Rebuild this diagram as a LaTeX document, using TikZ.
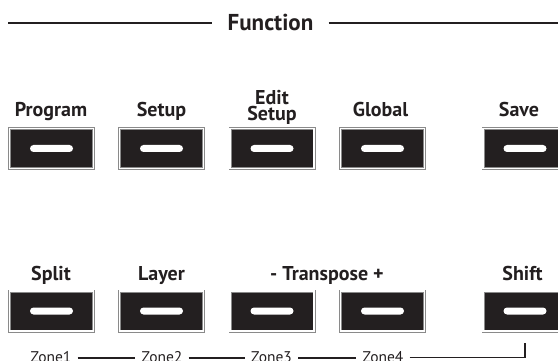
\documentclass[tikz,border=0pt]{standalone}
\usepackage{fontspec}
\setmainfont{PT Sans}
\usetikzlibrary{positioning}
\definecolor{panelBlack}{HTML}{231F20}
\definecolor{panelGrey}{HTML}{8A8A8A}

\begin{document}
\begin{tikzpicture}[x=1pt, y=-1pt,
    key/.style={rectangle, draw=panelGrey, line width=0.7pt, double=white, double distance=1.6pt, fill=panelBlack, minimum width=84pt, minimum height=40pt, inner sep=0pt},
    led/.style={rectangle, rounded corners=3.5pt, fill=white, minimum width=43pt, minimum height=7pt, inner sep=0pt},
    keylabel/.style={anchor=base, text=panelBlack, font=\fontsize{20}{16.5}\selectfont\bfseries, align=center, inner sep=0pt},
    zone/.style={text=panelBlack, font=\fontsize{15.5}{15.5}\selectfont, inner xsep=6pt, inner ysep=0pt},
    rule/.style={line width=2.8pt, draw=panelBlack},
    link/.style={line width=2pt, draw=panelBlack}
  ]
  \clip (0,0) rectangle (558,361);

  % title bar
  \node[text=panelBlack, font=\fontsize{23}{23}\selectfont\bfseries, inner xsep=15pt, inner ysep=0pt] (func) at (270.5,22) {Function};
  \coordinate (ruleL) at (8,23);
  \coordinate (ruleR) at (558,23);
  \draw[rule] (ruleL) -- (ruleL -| func.west);
  \draw[rule] (ruleR -| func.east) -- (ruleR);

  % buttons with their lamps
  \foreach \x/\y/\name in {51.5/148.5/prog, 161.5/148.5/setup, 272/148.5/edit, 382.5/148.5/global, 525/148.5/save,
                           51.5/311/split, 161.5/311/layer, 272/311/down, 382.5/311/up, 525/311/shift}{
    \node[key] (\name) at (\x,\y) {};
    \node[led] (\name led) at (\name.center) {};
  }

  % labels
  \node[keylabel] (lprog) at (51,117) {Program};
  \node[keylabel] (lsetup) at (161.5,117) {Setup};
  \node[keylabel] (ledit) at (272,121) {Edit\\Setup};
  \node[keylabel] (lglobal) at (380.5,117) {Global};
  \node[keylabel] (lsave) at (519,117) {Save};
  \node[keylabel] (lsplit) at (51,280) {Split};
  \node[keylabel] (llayer) at (161.5,280) {Layer};
  \node[keylabel] (ltrans) at (327,280) {- Transpose +};
  \node[keylabel] (lshift) at (522.5,280) {Shift};

  % zones
  \node[zone] (z1) at (51,357.5) {Zone1};
  \node[zone] (z2) at (162,357.5) {Zone2};
  \node[zone] (z3) at (271.5,357.5) {Zone3};
  \node[zone] (z4) at (383,357.5) {Zone4};
  \coordinate (shifttap) at (525,343);
  \draw[link] (z1) -- (z2);
  \draw[link] (z2) -- (z3);
  \draw[link] (z3) -- (z4);
  \draw[line width=1.3pt, draw=panelBlack] (z4) -| (shifttap);
\end{tikzpicture}
\end{document}
